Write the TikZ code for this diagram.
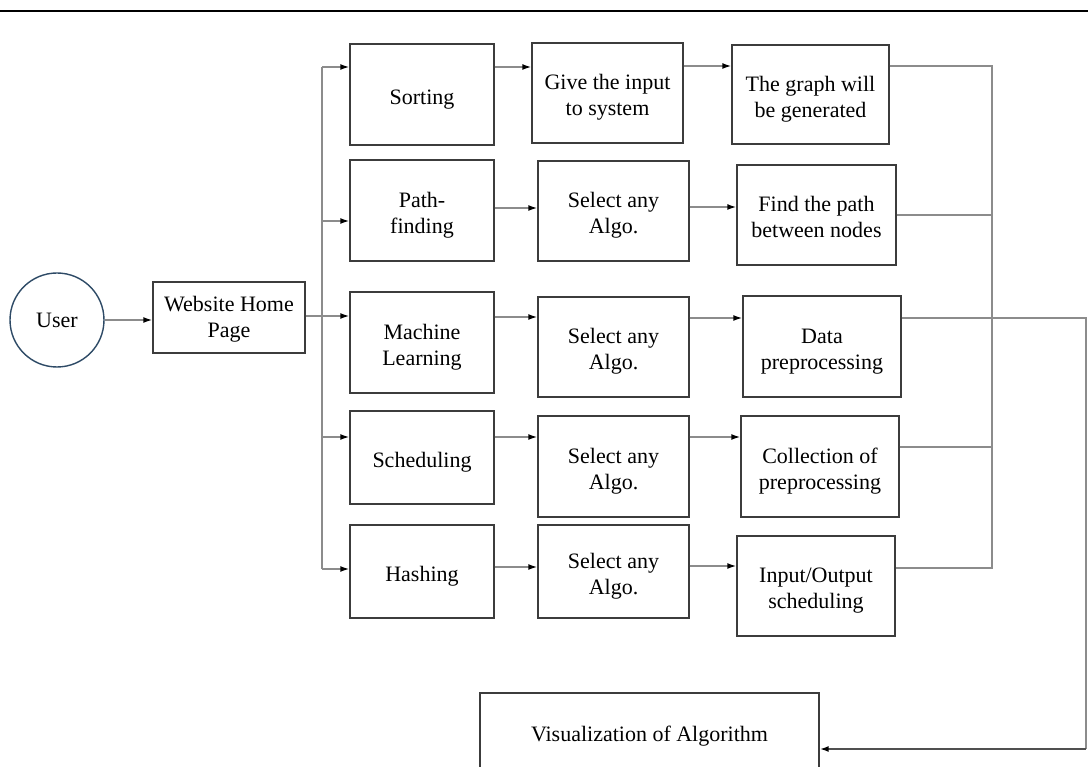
\documentclass[tikz,border=0pt]{standalone}
\usepackage{fontspec}
\setmainfont{Liberation Serif}
\usetikzlibrary{arrows.meta}
\definecolor{boxline}{HTML}{3C3C3C}
\definecolor{connc}{HTML}{8C8C8C}
\definecolor{userline}{HTML}{2E4A66}
\definecolor{darkconn}{HTML}{505050}
\newcommand\boxtext[2][-4.5pt]{\raisebox{#1}[\height][\depth]{\renewcommand\arraystretch{1}\begin{tabular}{@{}c@{}}#2\end{tabular}}}
\begin{document}
\begin{tikzpicture}[x=1pt,y=-1pt,
  box/.style={draw=boxline,line width=1.4pt,rectangle,inner sep=0pt,
    font=\fontsize{22pt}{26pt}\selectfont,text=black},
  wire/.style={draw=connc,line width=1.5pt},
  arr/.style={wire,-{Latex[length=9pt,width=6pt,color=black]}}]
\useasboundingbox (0,0) rectangle (1088,767);
\clip (0,0) rectangle (1088,767);
\fill[white] (0,0) rectangle (1088,767);

% top rule
\draw[line width=2.5pt,black] (0,11) -- (1088,11);

% nodes
\node[circle,draw=userline,line width=1.4pt,minimum size=94pt,inner sep=0pt,
  font=\fontsize{22pt}{26pt}\selectfont] (user) at (57,320) {User};
\node[box,minimum width=152pt,minimum height=71pt] (web) at (229,317.5) {\boxtext[-2pt]{Website Home\\Page}};

\node[box,minimum width=144pt,minimum height=101pt] (sort)  at (422,94.5)  {\boxtext{Sorting}};
\node[box,minimum width=144pt,minimum height=101pt] (path)  at (422,210.5) {\boxtext{Path-\\finding}};
\node[box,minimum width=144pt,minimum height=101pt] (ml)    at (422,342.5) {\boxtext{Machine\\Learning}};
\node[box,minimum width=144pt,minimum height=93pt]  (sched) at (422,457.5) {\boxtext{Scheduling}};
\node[box,minimum width=144pt,minimum height=93pt]  (hash)  at (422,571.5) {\boxtext{Hashing}};

\node[box,minimum width=151pt,minimum height=100pt] (give) at (607.5,93)   {\boxtext{Give the input\\to system}};
\node[box,minimum width=151pt,minimum height=100pt] (sel1) at (613.5,211)  {\boxtext{Select any\\Algo.}};
\node[box,minimum width=151pt,minimum height=100pt] (sel2) at (613.5,347)  {\boxtext{Select any\\Algo.}};
\node[box,minimum width=151pt,minimum height=101pt] (sel3) at (613.5,466.5){\boxtext{Select any\\Algo.}};
\node[box,minimum width=151pt,minimum height=93pt]  (sel4) at (613.5,571.5){\boxtext{Select any\\Algo.}};

\node[box,minimum width=157pt,minimum height=99pt]  (graph) at (810.5,94.5) {\boxtext{The graph will\\be generated}};
\node[box,minimum width=159pt,minimum height=100pt] (find)  at (816.5,215)  {\boxtext{Find the path\\between nodes}};
\node[box,minimum width=158pt,minimum height=101pt] (data)  at (822,346.5)  {\boxtext{Data\\preprocessing}};
\node[box,minimum width=158pt,minimum height=101pt] (coll)  at (820,466.5)  {\boxtext{Collection of\\preprocessing}};
\node[box,minimum width=158pt,minimum height=100pt] (io)    at (816,586)    {\boxtext{Input/Output\\scheduling}};

\node[box,minimum width=339pt,minimum height=82pt] (vis) at (649.5,734) {\boxtext[-2pt]{Visualization of Algorithm}};

% user -> website
\draw[arr] (user.east) -- (user.east -| web.west);

% left bus
\coordinate (bt) at (322,67);
\coordinate (bp) at (322,221);
\coordinate (bs) at (322,437);
\coordinate (bb) at (322,569);
\coordinate (wm) at (0,316);
\draw[wire] (bt) -- (bb);
\draw[arr] (bt) -- (bt -| sort.west);
\draw[arr] (bp) -- (bp -| path.west);
\draw[arr] (web.east |- wm) -- (ml.west |- wm);
\draw[arr] (bs) -- (bs -| sched.west);
\draw[arr] (bb) -- (bb -| hash.west);

% row arrows
\coordinate (y1a) at (0,67);
\coordinate (y1b) at (0,66);
\coordinate (y2a) at (0,208);
\coordinate (y2b) at (0,207);
\coordinate (y3a) at (0,317);
\coordinate (y3b) at (0,318);
\coordinate (y4a) at (0,437);
\coordinate (y5a) at (0,567);
\coordinate (y5b) at (0,566);
\draw[arr] (sort.east |- y1a) -- (give.west |- y1a);
\draw[arr] (give.east |- y1b) -- (graph.west |- y1b);
\draw[arr] (path.east |- y2a) -- (sel1.west |- y2a);
\draw[arr] (sel1.east |- y2b) -- (find.west |- y2b);
\draw[arr] (ml.east |- y3a) -- (sel2.west |- y3a);
\draw[arr] (sel2.east |- y3b) -- (data.west |- y3b);
\draw[arr] (sched.east |- y4a) -- (sel3.west |- y4a);
\draw[arr] (sel3.east |- y4a) -- (coll.west |- y4a);
\draw[arr] (hash.east |- y5a) -- (sel4.west |- y5a);
\draw[arr] (sel4.east |- y5b) -- (io.west |- y5b);

% right trunk
\coordinate (vt) at (992,66);
\coordinate (vf) at (992,215);
\coordinate (vc) at (992,447);
\coordinate (vb) at (992,568);
\draw[wire] (graph.east |- vt) -- (vt) -- (vb) -- (io.east |- vb);
\draw[wire] (find.east |- vf) -- (vf);
\draw[wire] (coll.east |- vc) -- (vc);

% data line to right edge and back to visualization
\coordinate (rd) at (1086,318);
\coordinate (re) at (1086,749);
\draw[wire] (data.east |- rd) -- (rd) -- (re);
\draw[draw=darkconn,line width=2pt,-{Latex[length=9pt,width=6pt,color=black]}] (re) -- (vis.east |- re);
\end{tikzpicture}
\end{document}
